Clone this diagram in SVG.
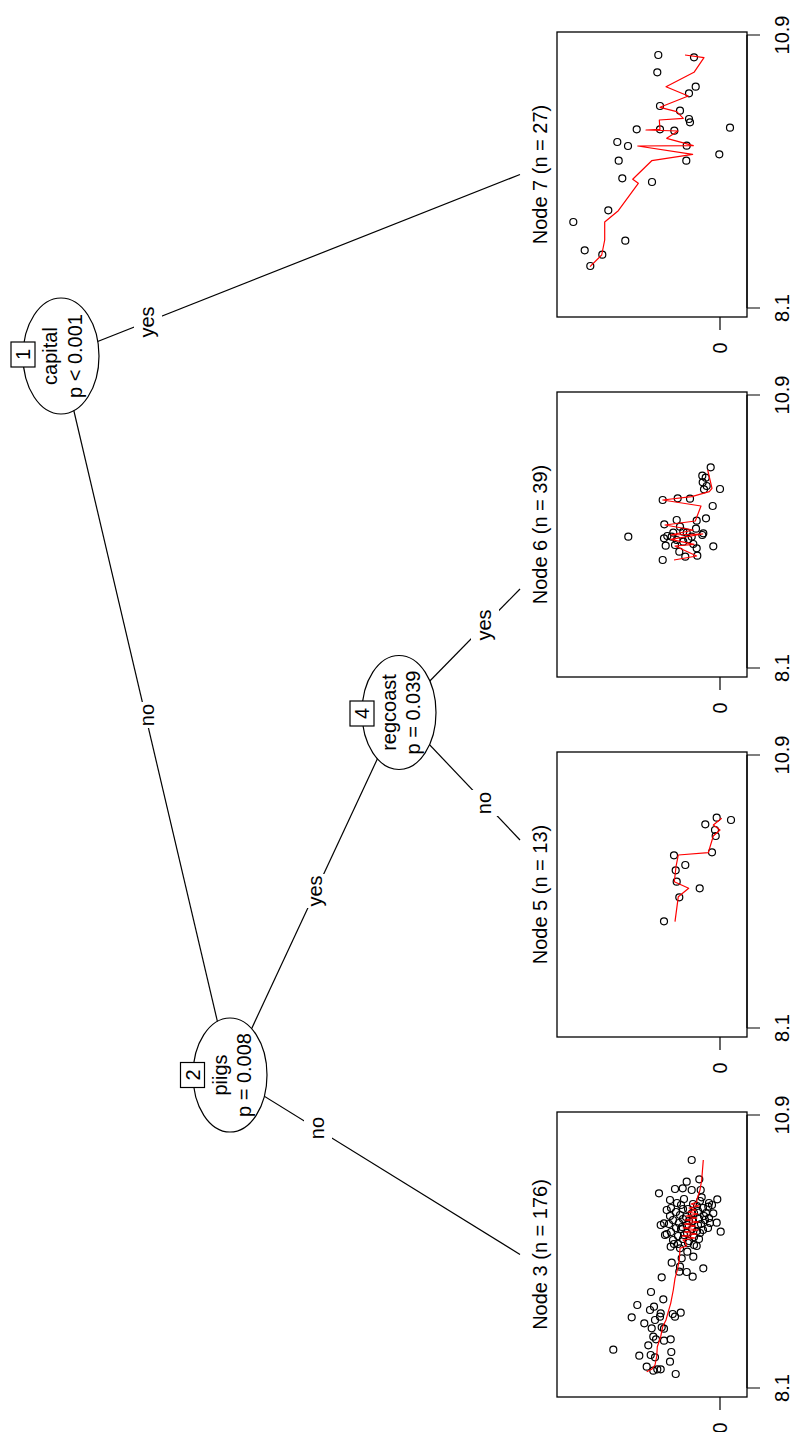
<svg xmlns="http://www.w3.org/2000/svg" width="795" height="1432" viewBox="0 0 795 1432">
<style>
.t{font-family:"Liberation Sans",Arial,sans-serif;font-size:20px;fill:#000}
.ln{stroke:#000;stroke-width:1.2;fill:none}
.el{fill:#fff;stroke:#000;stroke-width:1.2}
.bx{fill:#fff;stroke:#000;stroke-width:1.2}
.lb{fill:#fff;stroke:none}
.pts circle{fill:none;stroke:#000;stroke-width:1.2}
.fit{fill:none;stroke:#f00;stroke-width:1.2;stroke-linejoin:round}
.pan{fill:none;stroke:#000;stroke-width:1.3}
</style>
<rect width="795" height="1432" fill="#fff"/>

<g id="edges">
  <line class="ln" x1="61" y1="356" x2="520" y2="174.5"/>
  <line class="ln" x1="61" y1="356" x2="230" y2="1075"/>
  <line class="ln" x1="230" y1="1075" x2="520" y2="1254.5"/>
  <line class="ln" x1="230" y1="1075" x2="399" y2="712.5"/>
  <line class="ln" x1="399" y1="712.5" x2="520" y2="840"/>
  <line class="ln" x1="399" y1="712.5" x2="520" y2="589"/>
  <rect class="lb" x="134" y="305" width="28" height="34"/>
  <text class="t" text-anchor="middle" transform="translate(154,322) rotate(-90)">yes</text>
  <rect class="lb" x="134" y="702" width="28" height="26"/>
  <text class="t" text-anchor="middle" transform="translate(154,715) rotate(-90)">no</text>
  <rect class="lb" x="302" y="874" width="28" height="34"/>
  <text class="t" text-anchor="middle" transform="translate(322,891) rotate(-90)">yes</text>
  <rect class="lb" x="304" y="1115" width="28" height="26"/>
  <text class="t" text-anchor="middle" transform="translate(324,1128) rotate(-90)">no</text>
  <rect class="lb" x="471" y="608" width="28" height="34"/>
  <text class="t" text-anchor="middle" transform="translate(491,625) rotate(-90)">yes</text>
  <rect class="lb" x="471" y="790" width="28" height="26"/>
  <text class="t" text-anchor="middle" transform="translate(491,803) rotate(-90)">no</text>
</g>

<g id="node1">
  <ellipse class="el" cx="61" cy="356" rx="38" ry="58"/>
  <text class="t" text-anchor="middle" transform="translate(57,356) rotate(-90)">capital</text>
  <text class="t" text-anchor="middle" transform="translate(81.5,356) rotate(-90)">p &lt; 0.001</text>
  <rect class="bx" x="11" y="342" width="24" height="25"/>
  <text class="t" text-anchor="middle" transform="translate(30,354.5) rotate(-90)">1</text>
</g>

<g id="node2">
  <ellipse class="el" cx="230" cy="1075" rx="37" ry="57"/>
  <text class="t" text-anchor="middle" transform="translate(226.5,1075) rotate(-90)">piigs</text>
  <text class="t" text-anchor="middle" transform="translate(250.5,1075) rotate(-90)">p = 0.008</text>
  <rect class="bx" x="180.5" y="1062.5" width="24" height="25"/>
  <text class="t" text-anchor="middle" transform="translate(199.5,1075) rotate(-90)">2</text>
</g>

<g id="node4">
  <ellipse class="el" cx="399" cy="712.5" rx="37" ry="57"/>
  <text class="t" text-anchor="middle" transform="translate(395.5,712.5) rotate(-90)">regcoast</text>
  <text class="t" text-anchor="middle" transform="translate(419.5,712.5) rotate(-90)">p = 0.039</text>
  <rect class="bx" x="350" y="701" width="24" height="25"/>
  <text class="t" text-anchor="middle" transform="translate(369,713.5) rotate(-90)">4</text>
</g>

<g id="node7">
  <text class="t" text-anchor="middle" transform="translate(547,174.5) rotate(-90)">Node 7 (n = 27)</text>
  <rect class="pan" x="557" y="32" width="190" height="285"/>
  <path class="ln" d="M747 35H760M747 308H760M747 35V308M720 317V330"/>
  <text class="t" text-anchor="middle" transform="translate(789,35) rotate(-90)">10.9</text>
  <text class="t" text-anchor="middle" transform="translate(789,308) rotate(-90)">8.1</text>
  <text class="t" text-anchor="middle" transform="translate(727,348) rotate(-90)">0</text>
  <g class="pts">
    <circle cx="658.3" cy="55" r="3.5"/><circle cx="694" cy="57.3" r="3.5"/><circle cx="657.3" cy="72.3" r="3.5"/>
    <circle cx="695.7" cy="86.7" r="3.5"/><circle cx="689" cy="93.3" r="3.5"/><circle cx="660" cy="106" r="3.5"/>
    <circle cx="680" cy="110.7" r="3.5"/><circle cx="689" cy="119" r="3.5"/><circle cx="690" cy="122.3" r="3.5"/>
    <circle cx="636.7" cy="129.3" r="3.5"/><circle cx="660" cy="129.3" r="3.5"/><circle cx="674.3" cy="130.7" r="3.5"/>
    <circle cx="730" cy="127.7" r="3.5"/><circle cx="617.3" cy="142" r="3.5"/><circle cx="628" cy="146" r="3.5"/>
    <circle cx="686.7" cy="145.7" r="3.5"/><circle cx="719.3" cy="154.3" r="3.5"/><circle cx="618.7" cy="160.7" r="3.5"/>
    <circle cx="686.3" cy="160.7" r="3.5"/><circle cx="622.3" cy="178.3" r="3.5"/><circle cx="652" cy="182" r="3.5"/>
    <circle cx="608.3" cy="210.3" r="3.5"/><circle cx="573.3" cy="222" r="3.5"/><circle cx="625.3" cy="240.7" r="3.5"/>
    <circle cx="584.7" cy="250.3" r="3.5"/><circle cx="602.3" cy="254.7" r="3.5"/><circle cx="590.3" cy="266" r="3.5"/>
  </g>
  <polyline class="fit" points="590,266.7 601.7,255 604.7,240 604.7,222 618.3,210.7 638.3,183.3 632.7,179.3 651.7,160.7 692.7,154.3 637.7,146 693.3,145.7 666.7,138.3 678,131 646,130 660,129.3 659.3,120 683.3,118.3 676.7,111.7 660,107.3 688.3,96 666,86.7 694,72.3 704,57.7 685,55"/>
</g>

<g id="node6">
  <text class="t" text-anchor="middle" transform="translate(547,534.5) rotate(-90)">Node 6 (n = 39)</text>
  <rect class="pan" x="557" y="392" width="190" height="285"/>
  <path class="ln" d="M747 395H760M747 668H760M747 395V668M720 677V690"/>
  <text class="t" text-anchor="middle" transform="translate(789,395) rotate(-90)">10.9</text>
  <text class="t" text-anchor="middle" transform="translate(789,668) rotate(-90)">8.1</text>
  <text class="t" text-anchor="middle" transform="translate(727,708) rotate(-90)">0</text>
  <g class="pts">
    <circle cx="710.7" cy="467.3" r="3.5"/><circle cx="702.3" cy="475.7" r="3.5"/><circle cx="705.7" cy="477.7" r="3.5"/>
    <circle cx="702.7" cy="482.3" r="3.5"/><circle cx="706.7" cy="486" r="3.5"/><circle cx="704" cy="489.3" r="3.5"/>
    <circle cx="720" cy="489" r="3.5"/><circle cx="690" cy="498.7" r="3.5"/><circle cx="677.7" cy="498.3" r="3.5"/>
    <circle cx="662.7" cy="500" r="3.5"/><circle cx="712.7" cy="506" r="3.5"/><circle cx="706" cy="518.3" r="3.5"/>
    <circle cx="676.7" cy="520" r="3.5"/><circle cx="696.7" cy="520.7" r="3.5"/><circle cx="664.3" cy="524.3" r="3.5"/>
    <circle cx="680" cy="526.7" r="3.5"/><circle cx="696" cy="528.7" r="3.5"/><circle cx="703.3" cy="533.3" r="3.5"/>
    <circle cx="702.3" cy="535" r="3.5"/><circle cx="686.7" cy="532.7" r="3.5"/><circle cx="673.3" cy="532.7" r="3.5"/>
    <circle cx="628.3" cy="536.7" r="3.5"/><circle cx="664" cy="538.3" r="3.5"/><circle cx="667.3" cy="536" r="3.5"/>
    <circle cx="676.7" cy="540" r="3.5"/><circle cx="683.3" cy="541.7" r="3.5"/><circle cx="693.3" cy="544" r="3.5"/>
    <circle cx="665.7" cy="545.7" r="3.5"/><circle cx="713.3" cy="546.3" r="3.5"/><circle cx="675" cy="545" r="3.5"/>
    <circle cx="696.7" cy="548.3" r="3.5"/><circle cx="679.3" cy="551.7" r="3.5"/><circle cx="697.3" cy="555.7" r="3.5"/>
    <circle cx="685.3" cy="556.7" r="3.5"/><circle cx="662.7" cy="560" r="3.5"/><circle cx="688.3" cy="539.3" r="3.5"/>
    <circle cx="671.7" cy="536.7" r="3.5"/><circle cx="691.7" cy="536.7" r="3.5"/><circle cx="683.3" cy="531.7" r="3.5"/>
  </g>
  <polyline class="fit" points="674,560 696.7,556 675,546 694,544.3 670.7,539.3 702.7,534 670.7,535 693.3,530 665,525 695.3,521 701,506 662.7,500 691.7,496.7 709.3,491.7 712,488.3 707.7,470"/>
</g>

<g id="node5">
  <text class="t" text-anchor="middle" transform="translate(547,894.5) rotate(-90)">Node 5 (n = 13)</text>
  <rect class="pan" x="557" y="752" width="190" height="285"/>
  <path class="ln" d="M747 755H760M747 1028H760M747 755V1028M720 1037V1050"/>
  <text class="t" text-anchor="middle" transform="translate(789,755) rotate(-90)">10.9</text>
  <text class="t" text-anchor="middle" transform="translate(789,1028) rotate(-90)">8.1</text>
  <text class="t" text-anchor="middle" transform="translate(727,1068) rotate(-90)">0</text>
  <g class="pts">
    <circle cx="664" cy="921.3" r="3.5"/><circle cx="679.3" cy="897.3" r="3.5"/><circle cx="699.7" cy="888.3" r="3.5"/>
    <circle cx="676.7" cy="881.7" r="3.5"/><circle cx="675.7" cy="870.3" r="3.5"/><circle cx="685.3" cy="865" r="3.5"/>
    <circle cx="674" cy="855.3" r="3.5"/><circle cx="712" cy="852.3" r="3.5"/><circle cx="715.7" cy="836" r="3.5"/>
    <circle cx="715" cy="830" r="3.5"/><circle cx="705.3" cy="824.3" r="3.5"/><circle cx="716.7" cy="817.7" r="3.5"/>
    <circle cx="731" cy="820" r="3.5"/>
  </g>
  <polyline class="fit" points="675,921.7 678.3,896.7 688.7,888.3 674.3,881.7 676,866.7 678.3,855 708.3,852.7 713.3,836 720,830 713.3,825 721.7,818.3"/>
</g>

<g id="node3">
  <text class="t" text-anchor="middle" transform="translate(547,1254.5) rotate(-90)">Node 3 (n = 176)</text>
  <rect class="pan" x="557" y="1112" width="190" height="285"/>
  <path class="ln" d="M747 1115H760M747 1388H760M747 1115V1388M720 1397V1410"/>
  <text class="t" text-anchor="middle" transform="translate(789,1115) rotate(-90)">10.9</text>
  <text class="t" text-anchor="middle" transform="translate(789,1388) rotate(-90)">8.1</text>
  <text class="t" text-anchor="middle" transform="translate(727,1428) rotate(-90)">0</text>
  <g class="pts">
    <circle cx="651" cy="1292" r="3.5"/><circle cx="637.3" cy="1305" r="3.5"/><circle cx="663.3" cy="1299.3" r="3.5"/>
    <circle cx="650" cy="1310" r="3.5"/><circle cx="654" cy="1306.7" r="3.5"/><circle cx="631.7" cy="1317.3" r="3.5"/>
    <circle cx="660" cy="1316.7" r="3.5"/><circle cx="675" cy="1316.7" r="3.5"/><circle cx="680.7" cy="1312.7" r="3.5"/>
    <circle cx="672.7" cy="1314" r="3.5"/><circle cx="644.3" cy="1323.3" r="3.5"/><circle cx="651.7" cy="1328.3" r="3.5"/>
    <circle cx="661.7" cy="1327.3" r="3.5"/><circle cx="664" cy="1328.7" r="3.5"/><circle cx="653.3" cy="1336.7" r="3.5"/>
    <circle cx="656" cy="1339.3" r="3.5"/><circle cx="670.7" cy="1339.3" r="3.5"/><circle cx="664" cy="1340.7" r="3.5"/>
    <circle cx="648.3" cy="1345.3" r="3.5"/><circle cx="613.3" cy="1349.7" r="3.5"/><circle cx="650.7" cy="1355" r="3.5"/>
    <circle cx="671.3" cy="1352" r="3.5"/><circle cx="639.3" cy="1355.7" r="3.5"/><circle cx="655" cy="1357.3" r="3.5"/>
    <circle cx="670" cy="1361.7" r="3.5"/><circle cx="646.7" cy="1366.7" r="3.5"/><circle cx="657.3" cy="1369.3" r="3.5"/>
    <circle cx="660.7" cy="1369.3" r="3.5"/><circle cx="675.7" cy="1374" r="3.5"/><circle cx="653.3" cy="1370.7" r="3.5"/>
    <circle cx="655" cy="1320" r="3.5"/><circle cx="660.7" cy="1313.3" r="3.5"/>
    <circle cx="661.7" cy="1277.3" r="3.5"/><circle cx="679.3" cy="1271.7" r="3.5"/><circle cx="686.7" cy="1272" r="3.5"/>
    <circle cx="692.7" cy="1276.7" r="3.5"/><circle cx="703.3" cy="1268.3" r="3.5"/><circle cx="680" cy="1266.7" r="3.5"/>
    <circle cx="671.7" cy="1262.7" r="3.5"/><circle cx="681.7" cy="1258.3" r="3.5"/><circle cx="693.3" cy="1256.7" r="3.5"/>
    <circle cx="687.3" cy="1251.7" r="3.5"/><circle cx="670.7" cy="1246.7" r="3.5"/><circle cx="674" cy="1244" r="3.5"/>
    <circle cx="680" cy="1248.3" r="3.5"/><circle cx="696.7" cy="1246" r="3.5"/>
    <circle cx="691.7" cy="1160" r="3.5"/><circle cx="699.3" cy="1179.3" r="3.5"/><circle cx="686.7" cy="1181.7" r="3.5"/>
    <circle cx="675" cy="1189" r="3.5"/><circle cx="682.7" cy="1188.3" r="3.5"/><circle cx="659" cy="1193.3" r="3.5"/>
    <circle cx="670" cy="1200" r="3.5"/><circle cx="691.7" cy="1190" r="3.5"/><circle cx="700.7" cy="1190" r="3.5"/>
    <circle cx="701.7" cy="1197.3" r="3.5"/><circle cx="717.3" cy="1199.3" r="3.5"/><circle cx="720.7" cy="1231.7" r="3.5"/>
    <circle cx="716.7" cy="1222.7" r="3.5"/><circle cx="713.3" cy="1213.3" r="3.5"/><circle cx="708.3" cy="1206.7" r="3.5"/>
    <circle cx="666.7" cy="1210" r="3.5"/><circle cx="660.7" cy="1225" r="3.5"/><circle cx="665" cy="1235" r="3.5"/>
    <circle cx="666.7" cy="1234" r="3.5"/><circle cx="664" cy="1223.3" r="3.5"/>
    <circle cx="677" cy="1203" r="3.5"/><circle cx="684" cy="1199" r="3.5"/><circle cx="693" cy="1204" r="3.5"/><circle cx="700" cy="1201" r="3.5"/><circle cx="709" cy="1203" r="3.5"/>
    <circle cx="671" cy="1208" r="3.5"/><circle cx="681" cy="1205" r="3.5"/><circle cx="688" cy="1209" r="3.5"/><circle cx="697" cy="1206" r="3.5"/><circle cx="703" cy="1208" r="3.5"/><circle cx="712" cy="1205" r="3.5"/>
    <circle cx="676" cy="1212" r="3.5"/><circle cx="683" cy="1209" r="3.5"/><circle cx="692" cy="1213" r="3.5"/><circle cx="698" cy="1211" r="3.5"/><circle cx="706" cy="1213" r="3.5"/>
    <circle cx="670" cy="1216" r="3.5"/><circle cx="680" cy="1215" r="3.5"/><circle cx="686" cy="1217" r="3.5"/><circle cx="694" cy="1213" r="3.5"/><circle cx="704" cy="1216" r="3.5"/><circle cx="709" cy="1218" r="3.5"/>
    <circle cx="673" cy="1220" r="3.5"/><circle cx="683" cy="1219" r="3.5"/><circle cx="689" cy="1221" r="3.5"/><circle cx="699" cy="1219" r="3.5"/><circle cx="705" cy="1220" r="3.5"/>
    <circle cx="669" cy="1224" r="3.5"/><circle cx="679" cy="1223" r="3.5"/><circle cx="687" cy="1225" r="3.5"/><circle cx="693" cy="1221" r="3.5"/><circle cx="701" cy="1224" r="3.5"/><circle cx="710" cy="1223" r="3.5"/>
    <circle cx="676" cy="1228" r="3.5"/><circle cx="682" cy="1227" r="3.5"/><circle cx="692" cy="1229" r="3.5"/><circle cx="698" cy="1225" r="3.5"/><circle cx="708" cy="1228" r="3.5"/>
    <circle cx="671" cy="1232" r="3.5"/><circle cx="681" cy="1229" r="3.5"/><circle cx="687" cy="1233" r="3.5"/><circle cx="697" cy="1231" r="3.5"/><circle cx="703" cy="1230" r="3.5"/>
    <circle cx="678" cy="1236" r="3.5"/><circle cx="684" cy="1235" r="3.5"/><circle cx="694" cy="1237" r="3.5"/><circle cx="700" cy="1233" r="3.5"/>
    <circle cx="673" cy="1240" r="3.5"/><circle cx="683" cy="1239" r="3.5"/><circle cx="689" cy="1241" r="3.5"/><circle cx="699" cy="1239" r="3.5"/>
    <circle cx="678" cy="1244" r="3.5"/><circle cx="688" cy="1243" r="3.5"/><circle cx="694" cy="1245" r="3.5"/>
  </g>
  <polyline class="fit" points="646.7,1371.7 651.7,1369.3 655,1365 656.7,1356.7 657.3,1346.7 660.7,1336.7 662.7,1326.7 666,1320 668.3,1311.7 670.7,1303.3 673.3,1290 675,1278.3 677.3,1270 679.3,1260 680,1248.3 686.7,1246 685,1241.7 683,1240 695,1238 682,1236 697,1234 684,1232 698,1230 683,1228 696,1226 684,1224 699,1222 685,1220 697,1218 686,1216 698,1214 688,1212 696,1210 689,1208 699,1206 691,1204 697,1202 696.7,1200 700,1190 701.7,1180 703.3,1160"/>
</g>
</svg>
